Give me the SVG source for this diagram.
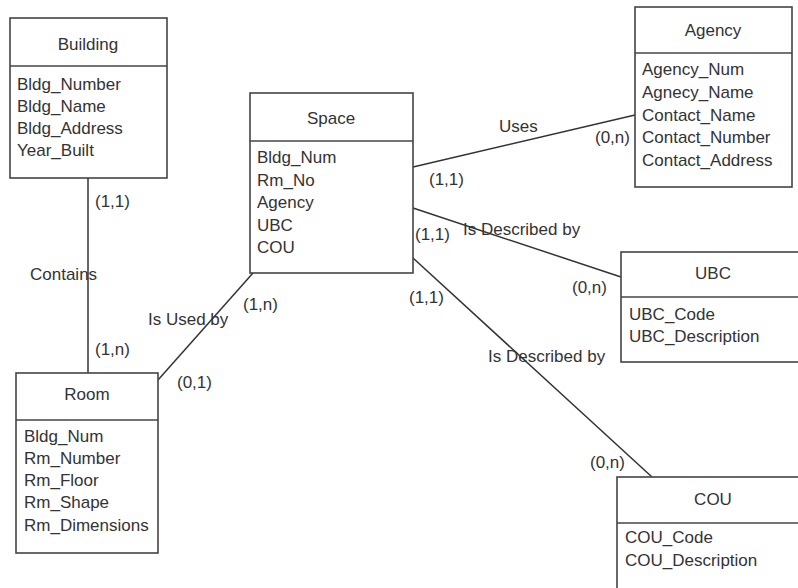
<svg xmlns="http://www.w3.org/2000/svg" width="798" height="588" viewBox="0 0 798 588">
<style>
.box{fill:#fff;stroke:#444;stroke-width:1.6}
.div{stroke:#444;stroke-width:1.6}
text{font-family:"Liberation Sans",Arial,sans-serif;font-size:17px;fill:#333}
.t{text-anchor:middle}
.conn line{stroke:#333;stroke-width:1.5}
</style>
<rect width="798" height="588" fill="#fff"/>
<g id="connectors" class="conn">
<line x1="88" y1="178" x2="88" y2="373"/>
<line x1="158" y1="380" x2="253" y2="273"/>
<line x1="413" y1="167" x2="635" y2="115"/>
<line x1="413" y1="208" x2="621" y2="277"/>
<line x1="413" y1="258" x2="652" y2="477"/>
</g>
<g id="labels">
<text x="95" y="207">(1,1)</text>
<text x="30" y="280">Contains</text>
<text x="95" y="355">(1,n)</text>
<text x="148" y="325">Is Used by</text>
<text x="243" y="310">(1,n)</text>
<text x="177" y="388">(0,1)</text>
<text x="499" y="132">Uses</text>
<text x="595" y="143">(0,n)</text>
<text x="429" y="185">(1,1)</text>
<text x="415" y="240">(1,1)</text>
<text x="463" y="235">Is Described by</text>
<text x="572" y="293">(0,n)</text>
<text x="409" y="303">(1,1)</text>
<text x="488" y="362">Is Described by</text>
<text x="590" y="468">(0,n)</text>
</g>
<g id="building">
<rect class="box" x="10" y="18" width="157" height="160"/>
<line class="div" x1="10" y1="66" x2="167" y2="66"/>
<text class="t" x="88" y="50">Building</text>
<text x="17" y="90">Bldg_Number</text>
<text x="17" y="112">Bldg_Name</text>
<text x="17" y="134">Bldg_Address</text>
<text x="17" y="156">Year_Built</text>
</g>
<g id="space">
<rect class="box" x="250" y="93" width="163" height="180"/>
<line class="div" x1="250" y1="141" x2="413" y2="141"/>
<text class="t" x="331" y="124">Space</text>
<text x="257" y="163">Bldg_Num</text>
<text x="257" y="186">Rm_No</text>
<text x="257" y="208">Agency</text>
<text x="257" y="231">UBC</text>
<text x="257" y="253">COU</text>
</g>
<g id="agency">
<rect class="box" x="635" y="7" width="157" height="180"/>
<line class="div" x1="635" y1="53" x2="792" y2="53"/>
<text class="t" x="713" y="36">Agency</text>
<text x="642" y="75">Agency_Num</text>
<text x="642" y="98">Agnecy_Name</text>
<text x="642" y="121">Contact_Name</text>
<text x="642" y="143">Contact_Number</text>
<text x="642" y="166">Contact_Address</text>
</g>
<g id="room">
<rect class="box" x="16" y="373" width="142" height="180"/>
<line class="div" x1="16" y1="420" x2="158" y2="420"/>
<text class="t" x="87" y="400">Room</text>
<text x="24" y="442">Bldg_Num</text>
<text x="24" y="464">Rm_Number</text>
<text x="24" y="486">Rm_Floor</text>
<text x="24" y="508">Rm_Shape</text>
<text x="24" y="531">Rm_Dimensions</text>
</g>
<g id="ubc">
<rect class="box" x="621" y="252" width="184" height="110"/>
<line class="div" x1="621" y1="297" x2="805" y2="297"/>
<text class="t" x="713" y="279">UBC</text>
<text x="629" y="320">UBC_Code</text>
<text x="629" y="342">UBC_Description</text>
</g>
<g id="cou">
<rect class="box" x="617" y="477" width="192" height="130"/>
<line class="div" x1="617" y1="523" x2="809" y2="523"/>
<text class="t" x="713" y="505">COU</text>
<text x="625" y="543">COU_Code</text>
<text x="625" y="566">COU_Description</text>
</g>
</svg>
